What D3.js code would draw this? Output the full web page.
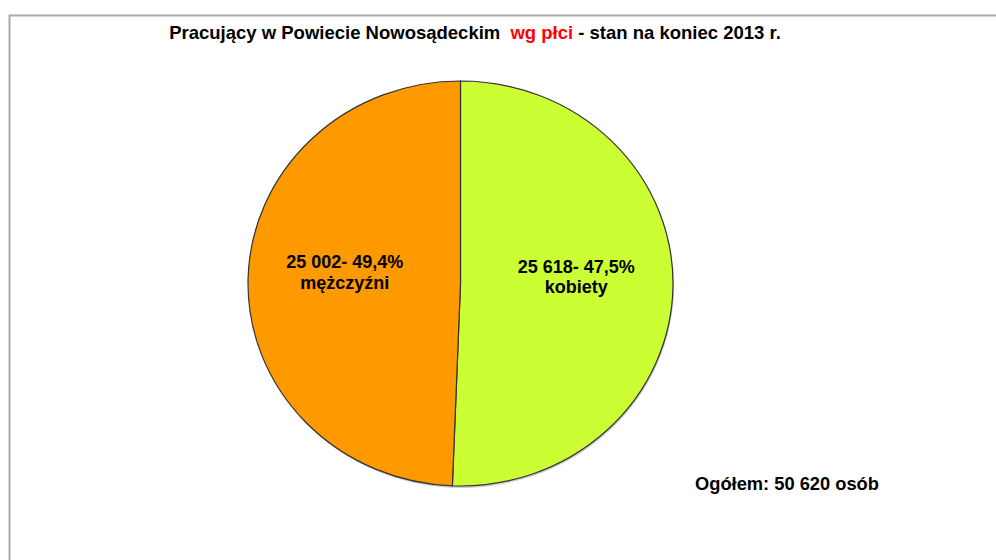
<!DOCTYPE html>
<html>
<head>
<meta charset="utf-8">
<script src="https://cdn.jsdelivr.net/npm/d3@7"></script>
<style>
  body { margin: 0; background: #fff; }
  svg text { font-family: "Liberation Sans", Arial, sans-serif; font-weight: bold; }
</style>
</head>
<body>
<svg id="chart" width="996" height="560"></svg>
<script>
// data
const categories = ['kobiety', 'mężczyźni'];
const values = [25618, 25002];
const percentLabels = ['47,5%', '49,4%'];
const valueLabels = ['25 618', '25 002'];
const colors = ['#ccff33', '#ff9900'];
const totalLabel = 'Ogółem: 50 620 osób';

const svg = d3.select('#chart');

// frame (top + left edge only)
svg.append('path')
  .attr('d', 'M9.5 560 L9.5 15.5 L996 15.5')
  .attr('fill', 'none')
  .attr('stroke', '#aaa')
  .attr('stroke-width', 2);

// title
const title = svg.append('text')
  .attr('x', 475)
  .attr('y', 39)
  .attr('text-anchor', 'middle')
  .style('font-size', '18.5px');
title.append('tspan').attr('fill', '#000').text('Pracujący w Powiecie Nowosądeckim ');
title.append('tspan').attr('fill', '#ff0000').attr('dx', 5).text('wg płci');
title.append('tspan').attr('fill', '#000').text(' - stan na koniec 2013 r.');

// pie (slightly squashed vertically)
const cx = 460.5, cy = 283.5, rx = 212.5, ry = 202.5;

const pie = d3.pie().sort(null).value(d => d.value);
const arcs = pie(categories.map((c, i) => ({ cat: c, value: values[i], i: i })));
const arc = d3.arc().innerRadius(0).outerRadius(rx);

const g = svg.append('g')
  .attr('transform', `translate(${cx},${cy}) scale(1,${ry / rx})`);

// soft shadow
g.append('ellipse')
  .attr('cx', 1).attr('cy', 2)
  .attr('rx', rx).attr('ry', rx)
  .attr('fill', '#999')
  .attr('opacity', 0.5);

g.selectAll('.slice')
  .data(arcs)
  .enter()
  .append('path')
  .attr('class', 'slice')
  .attr('d', arc)
  .attr('fill', d => colors[d.data.i])
  .attr('stroke', '#333')
  .attr('stroke-width', 1.2)
  .attr('vector-effect', 'non-scaling-stroke');

// labels
const labelArc = d3.arc().innerRadius(rx * 0.545).outerRadius(rx * 0.545);
const labels = svg.selectAll('.lbl')
  .data(arcs)
  .enter()
  .append('text')
  .attr('class', 'lbl')
  .attr('text-anchor', 'middle')
  .style('font-size', '18px')
  .attr('transform', d => {
    const c = labelArc.centroid(d);
    return `translate(${cx + c[0]},${cy + c[1] * ry / rx - 13})`;
  });
labels.append('tspan')
  .attr('x', 0).attr('y', 0)
  .text(d => valueLabels[d.data.i] + '- ' + percentLabels[d.data.i]);
labels.append('tspan')
  .attr('x', 0).attr('dy', 20.5)
  .text(d => d.data.cat);

// total
svg.append('text')
  .attr('x', 695)
  .attr('y', 490)
  .style('font-size', '18.3px')
  .text(totalLabel);
</script>
</body>
</html>
